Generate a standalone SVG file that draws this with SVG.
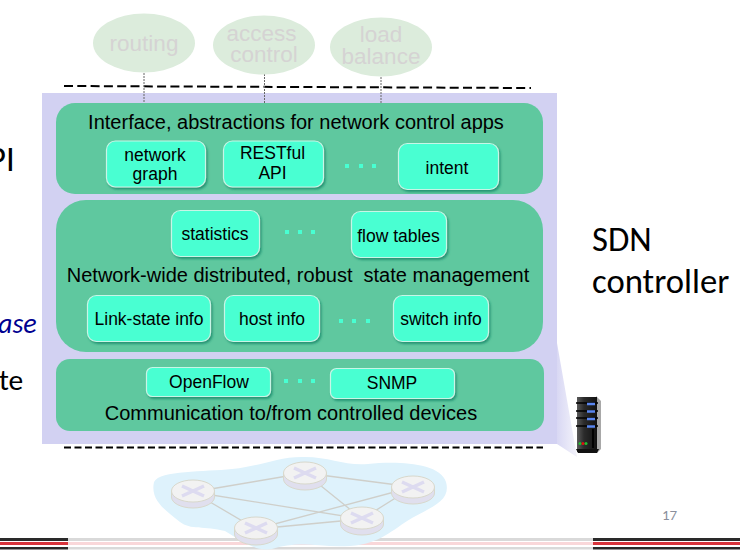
<svg xmlns="http://www.w3.org/2000/svg" width="740" height="550" viewBox="0 0 740 550">
<style>
text{font-family:"Liberation Sans",Arial,sans-serif;fill:#000;text-anchor:middle}
.t{font-size:20px;white-space:pre}
.b{font-size:17.500px}
.app{font-size:22.500px;fill:#d5d3d3}
.ell{fill:#dcecdc}
.row{fill:#5fc89f}
.btn{fill:#48ffd2;stroke:#c8f5e6;stroke-width:1.200;filter:url(#sh)}
.dot{fill:#48ffd2}
.side{font-family:Carlito,Lato,"Open Sans",sans-serif;font-size:34.700px;text-anchor:start}
.dash{stroke:#000;stroke-width:2;stroke-dasharray:9 4.300;fill:none}
.dash2{stroke:#000;stroke-width:2;stroke-dasharray:7 3.500;fill:none}
.thin{stroke:#666;stroke-width:1;stroke-dasharray:2 1;fill:none}
.lnk{stroke:#cfcfca;stroke-width:1.300;fill:none}
.rb{fill:#e0dfee;stroke:#d8d8cc;stroke-width:1}
.rt{fill:#f2f2f2;stroke:#d8d8cc;stroke-width:1}
.x{stroke:#dddbf0;stroke-width:3.500;fill:none}
</style>
<defs>
<filter id="sh" x="-10%" y="-10%" width="125%" height="130%"><feDropShadow dx="1.500" dy="2" stdDeviation="1.200" flood-color="#1f8f70" flood-opacity="0.9"/></filter>
<filter id="bl" x="-5%" y="-5%" width="110%" height="110%"><feGaussianBlur stdDeviation="0.600"/></filter>
<linearGradient id="fade" gradientUnits="userSpaceOnUse" x1="552" y1="0" x2="579" y2="0"><stop offset="0" stop-color="#d2d1f2"/><stop offset="1" stop-color="#f6f6fb"/></linearGradient>
<linearGradient id="srv" x1="0" y1="0" x2="1" y2="0"><stop offset="0" stop-color="#5a5a5a"/><stop offset="0.35" stop-color="#2b2b2b"/><stop offset="1" stop-color="#111"/></linearGradient>
<g id="router"><path class="rb" d="M-21.500 0V6A21.500 11 0 0 0 21.500 6V0Z"/><ellipse class="rt" rx="21.500" ry="11"/><path class="x" d="M-11 -5L11 5M-11 5L11 -5"/></g>
</defs>

<g id="stripes">
<rect x="0" y="538" width="68" height="3" fill="#2a2a2a"/><rect x="0" y="542" width="68" height="3" fill="#d8343c"/><rect x="0" y="547" width="68" height="2.500" fill="#2a2a2a"/>
<rect x="68" y="538" width="525" height="3" fill="#d9d9d9"/><rect x="68" y="542" width="525" height="3" fill="#f9d7d9"/><rect x="68" y="547" width="525" height="2.500" fill="#d9d9d9"/>
<rect x="593" y="538" width="147" height="3" fill="#2a2a2a"/><rect x="593" y="542" width="147" height="3" fill="#d8343c"/><rect x="593" y="547" width="147" height="2.500" fill="#2a2a2a"/>
</g>

<g id="left-fragments">
<text class="side" x="-12" y="171">PI</text>
<text class="side" x="-2" y="333" style="font-size:28px;font-style:italic;fill:#000090">ase</text>
<text class="side" x="-1" y="390" style="font-size:29.500px">te</text>
</g>

<g id="panel">
<path d="M557 343L577 457L557 444H42V93H557Z" fill="url(#fade)"/>
<rect x="42" y="93" width="515" height="351" fill="#d2d1f2"/>
</g>

<g id="connectors">
<path class="dash" d="M64 86L531 88"/>
<path class="dash2" d="M64 447.500H543"/>
<path class="thin" d="M144 73V103M264.500 74V103M381 77V103"/>
</g>

<g id="routing"><ellipse class="ell" cx="144" cy="43" rx="51" ry="29.500"/><text class="app" x="144" y="51">routing</text></g>
<g id="access-control"><ellipse class="ell" cx="264" cy="45" rx="51" ry="29.500"/><text class="app" x="261.500" y="41">access</text><text class="app" x="264" y="62">control</text></g>
<g id="load-balance"><ellipse class="ell" cx="381" cy="47" rx="51" ry="29.500"/><text class="app" x="381" y="42">load</text><text class="app" x="381" y="64">balance</text></g>

<g id="row-interface"><rect class="row" x="56" y="103" width="487" height="91" rx="19"/><text class="t" x="296" y="129">Interface, abstractions for network control apps</text></g>
<g id="row-state"><rect class="row" x="56" y="200" width="487" height="152" rx="30"/><text class="t" x="298" y="282">Network-wide distributed, robust  state management</text></g>
<g id="row-comm"><rect class="row" x="56" y="359" width="488" height="72" rx="14"/><text class="t" x="291" y="420">Communication to/from controlled devices</text></g>

<g id="network-graph"><rect class="btn" x="106.500" y="141" width="99" height="46" rx="9"/><text class="b" x="155" y="160.500">network</text><text class="b" x="155" y="180">graph</text></g>
<g id="restful-api"><rect class="btn" x="223.500" y="141" width="100" height="46" rx="9"/><text class="b" x="272.500" y="159">RESTful</text><text class="b" x="272.500" y="179">API</text></g>
<g id="intent"><rect class="btn" x="398.500" y="143.500" width="100" height="46" rx="9"/><text class="b" x="447" y="174">intent</text></g>
<g id="statistics"><rect class="btn" x="171.500" y="210.500" width="88" height="46" rx="9"/><text class="b" x="215" y="239.500">statistics</text></g>
<g id="flow-tables"><rect class="btn" x="351.500" y="211.500" width="95" height="46" rx="9"/><text class="b" x="398.500" y="241.500">flow tables</text></g>
<g id="link-state-info"><rect class="btn" x="87.500" y="295.500" width="123" height="46" rx="9"/><text class="b" x="149" y="324.500">Link-state info</text></g>
<g id="host-info"><rect class="btn" x="224.500" y="295.500" width="95" height="46" rx="9"/><text class="b" x="272" y="324.500">host info</text></g>
<g id="switch-info"><rect class="btn" x="393.500" y="295.500" width="95" height="46" rx="9"/><text class="b" x="441" y="324.500">switch info</text></g>
<g id="openflow"><rect class="btn" x="146.500" y="367.500" width="124" height="29" rx="6"/><text class="b" x="209" y="388">OpenFlow</text></g>
<g id="snmp"><rect class="btn" x="330.500" y="368.500" width="124" height="30" rx="6"/><text class="b" x="392" y="389">SNMP</text></g>

<g id="ellipses-dots">
<rect class="dot" x="345" y="164" width="4" height="4"/><rect class="dot" x="359" y="164" width="4" height="4"/><rect class="dot" x="372" y="164" width="4" height="4"/>
<rect class="dot" x="285" y="230" width="4" height="4"/><rect class="dot" x="298" y="230" width="4" height="4"/><rect class="dot" x="311" y="230" width="4" height="4"/>
<rect class="dot" x="339" y="319" width="4" height="4"/><rect class="dot" x="352" y="319" width="4" height="4"/><rect class="dot" x="366" y="319" width="4" height="4"/>
<rect class="dot" x="284" y="379" width="4" height="4"/><rect class="dot" x="298" y="379" width="4" height="4"/><rect class="dot" x="311" y="379" width="4" height="4"/>
</g>

<g id="sdn-label"><text class="side" x="592" y="251">SDN</text><text class="side" x="592" y="293">controller</text></g>

<g id="server">
<path d="M596 396L601 401V449L597 453Z" fill="#a8a8a8"/>
<path d="M577 397H597V452H577Z" fill="url(#srv)"/>
<path d="M576 449H599L597 453H578Z" fill="#111"/>
<path d="M576 403H598M576 411H598M576 418H598M576 426H598" stroke="#000" stroke-width="1.500"/>
<path d="M587 404H595M587 411.500H595M587 419H595M587 426.500H595" stroke="#5a86f0" stroke-width="2.500"/>
<rect x="592" y="429" width="2" height="19" fill="#000"/>
<circle cx="580" cy="443.500" r="1.500" fill="#1fbf2f"/><circle cx="583" cy="443.500" r="1.500" fill="#e01010"/><circle cx="586" cy="443.500" r="1.500" fill="#1fbf2f"/>
</g>

<g id="network" filter="url(#bl)">
<path d="M154 482C160 470 205 472 232 469C262 466 280 456 305 457C330 457 345 466 368 464C395 461 440 462 446 482C451 500 434 506 412 518C392 530 380 544 350 546C320 548 300 540 272 549C255 552 240 540 225 531C205 526 190 530 180 522C165 510 150 500 154 482Z" fill="#def2fc"/>
<g class="lnk"><path d="M193 492L305 473L413 487L256 529L193 492L362 519L305 473M413 487L362 519L256 529"/></g>
<use href="#router" x="193" y="491"/>
<use href="#router" x="305" y="473"/>
<use href="#router" x="413" y="487"/>
<use href="#router" x="362" y="518"/>
<use href="#router" x="256" y="528"/>
</g>

<text id="page-number" x="669.500" y="520" style="font-family:Carlito,Lato,sans-serif;font-size:15px;fill:#8a8f9c">17</text>
</svg>
